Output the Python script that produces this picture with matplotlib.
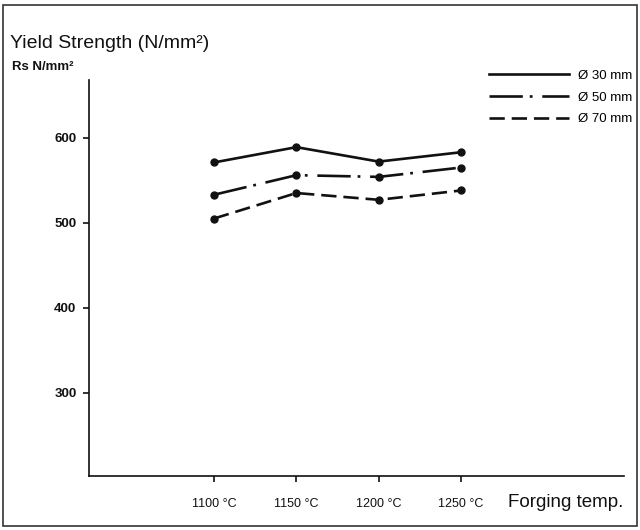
import matplotlib
matplotlib.use("Agg")
import matplotlib.pyplot as plt
from matplotlib.lines import Line2D
from matplotlib.patches import Rectangle

plt.rcParams['font.family'] = ['Liberation Sans', 'DejaVu Sans']
plt.rcParams['lines.scale_dashes'] = False

# forging temperatures and yield strength per bar diameter
temps = [1100, 1150, 1200, 1250]
temp_labels = ["1100 °C", "1150 °C", "1200 °C", "1250 °C"]
rs_30 = [571, 589, 572, 583]
rs_50 = [533, 556, 554, 565]
rs_70 = [505, 535, 527, 538]
y_ticks = [300, 400, 500, 600]

ink = "#111111"
dash_dot = (0, (24, 5, 2, 7))
dashed = (0, (11, 5))

fig = plt.figure(figsize=(6.4, 5.3), dpi=100)
ax = fig.add_axes([0.139, 0.102, 0.836, 0.747])

ax.plot(temps, rs_30, color=ink, lw=1.9, marker="o", ms=5, linestyle="-")
ax.plot(temps, rs_50, color=ink, lw=1.9, marker="o", ms=5, linestyle=dash_dot)
ax.plot(temps, rs_70, color=ink, lw=1.9, marker="o", ms=5, linestyle=dashed)

ax.set_xlim(1024, 1349)
ax.set_ylim(202, 668)
ax.set_xticks(temps)
ax.set_xticklabels(temp_labels)
ax.set_yticks(y_ticks)
for lbl in ax.get_yticklabels():
    lbl.set_fontweight("bold")

for side in ("top", "right"):
    ax.spines[side].set_visible(False)
for side in ("left", "bottom"):
    ax.spines[side].set_linewidth(1.2)
    ax.spines[side].set_color(ink)

ax.tick_params(axis="y", direction="out", length=4, width=1.2, pad=5,
               labelsize=9.5, colors=ink)
ax.tick_params(axis="x", direction="out", length=4, width=1.2, pad=12,
               labelsize=9, colors=ink)

# legend drawn as plain line samples
handles = [
    Line2D([], [], color=ink, lw=1.9, linestyle="-"),
    Line2D([], [], color=ink, lw=1.9, linestyle=dash_dot),
    Line2D([], [], color=ink, lw=1.9, linestyle=dashed),
]
fig.legend(handles, ["Ø 30 mm", "Ø 50 mm", "Ø 70 mm"],
           loc="upper left", bbox_to_anchor=(0.753, 0.881),
           frameon=False, fontsize=9.5, handlelength=6.1,
           handletextpad=0.7, labelspacing=0.72, borderpad=0)

fig.text(0.016, 0.918, "Yield Strength (N/mm²)", fontsize=14,
         color=ink, va="center", ha="left")
fig.text(0.018, 0.874, "Rs N/mm²", fontsize=9.5, fontweight="bold",
         color=ink, va="center", ha="left")
fig.text(0.974, 0.051, "Forging temp.", fontsize=13.5,
         color=ink, va="center", ha="right")

# outer frame
fig.patches.append(Rectangle((0.005, 0.008), 0.99, 0.983,
                             transform=fig.transFigure, fill=False,
                             edgecolor="#333333", lw=1.2))

fig.savefig("out.png", dpi=100)
